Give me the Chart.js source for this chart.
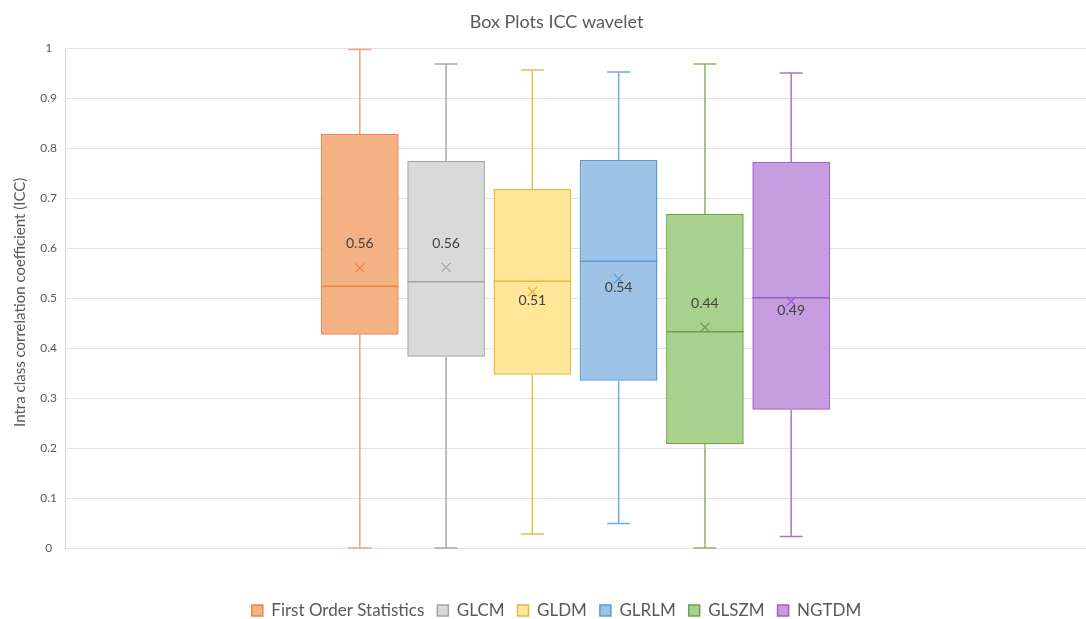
<!DOCTYPE html>
<html>
<head>
<meta charset="utf-8">
<title>Box Plots ICC wavelet</title>
<script src="https://cdn.jsdelivr.net/npm/chart.js@4/dist/chart.umd.min.js"></script>
<style>
  html, body { margin: 0; padding: 0; background: #ffffff; }
  #wrap { width: 1086px; height: 619px; position: relative; }
</style>
</head>
<body>
<div id="wrap"><canvas id="chart"></canvas></div>
<script>
// Feature families and their ICC distributions (five-number summary + mean)
const groups = ["First Order Statistics", "GLCM", "GLDM", "GLRLM", "GLSZM", "NGTDM"];
const minValues = [0.0, 0.0, 0.028, 0.049, 0.0, 0.023];
const q1Values = [0.427, 0.383, 0.347, 0.335, 0.208, 0.277];
const medianValues = [0.524, 0.533, 0.534, 0.574, 0.433, 0.501];
const q3Values = [0.829, 0.775, 0.719, 0.777, 0.669, 0.773];
const maxValues = [0.998, 0.969, 0.957, 0.953, 0.969, 0.951];
const meanValues = [0.561, 0.562, 0.513, 0.539, 0.442, 0.494];
const yTicks = [0, 0.1, 0.2, 0.3, 0.4, 0.5, 0.6, 0.7, 0.8, 0.9, 1];

const fills = ["#f4b183", "#d9d9d9", "#ffe699", "#9dc3e6", "#a9d18e", "#c59ddf"];
const edges = ["#e8864a", "#a5a5a5", "#e2b93b", "#5b9bd5", "#6fa24a", "#9e5dc9"];
const whiskerColors = ["#eea37a", "#a8a8a8", "#e3bf52", "#79a9dc", "#8ab56b", "#a874d0"];
// where the mean label sits relative to the mean marker
const labelSide = ["above", "above", "below", "below", "above", "below"];

const fontFamily = "Lato, 'Open Sans', sans-serif";
const textGrey = "#595959";

// Whiskers, caps, median line, mean cross and mean label on top of the floating bars
const boxExtras = {
  id: "boxExtras",
  afterDatasetsDraw(chart) {
    const { ctx } = chart;
    const y = chart.scales.y;
    ctx.save();
    groups.forEach((_, i) => {
      const bar = chart.getDatasetMeta(i).data[0];
      if (!bar) return;
      const cx = bar.x;
      const half = bar.width / 2;
      const cap = 11.5;

      ctx.strokeStyle = whiskerColors[i];
      ctx.lineWidth = 1.5;
      ctx.beginPath();
      ctx.moveTo(cx, y.getPixelForValue(q3Values[i]));
      ctx.lineTo(cx, y.getPixelForValue(maxValues[i]));
      ctx.moveTo(cx - cap, y.getPixelForValue(maxValues[i]));
      ctx.lineTo(cx + cap, y.getPixelForValue(maxValues[i]));
      ctx.moveTo(cx, y.getPixelForValue(q1Values[i]));
      ctx.lineTo(cx, y.getPixelForValue(minValues[i]));
      ctx.moveTo(cx - cap, y.getPixelForValue(minValues[i]));
      ctx.lineTo(cx + cap, y.getPixelForValue(minValues[i]));
      ctx.stroke();

      const my = y.getPixelForValue(medianValues[i]);
      ctx.strokeStyle = edges[i];
      ctx.lineWidth = 1.5;
      ctx.beginPath();
      ctx.moveTo(cx - half, my);
      ctx.lineTo(cx + half, my);
      ctx.stroke();

      const ay = y.getPixelForValue(meanValues[i]);
      const s = 4.5;
      ctx.lineWidth = 1.3;
      ctx.beginPath();
      ctx.moveTo(cx - s, ay - s);
      ctx.lineTo(cx + s, ay + s);
      ctx.moveTo(cx + s, ay - s);
      ctx.lineTo(cx - s, ay + s);
      ctx.stroke();

      ctx.fillStyle = "#404040";
      ctx.font = "14px " + fontFamily;
      ctx.textAlign = "center";
      ctx.textBaseline = "middle";
      const ly = labelSide[i] === "above" ? ay - 24 : ay + 9;
      ctx.fillText(meanValues[i].toFixed(2), cx, ly);
    });
    ctx.restore();
  }
};

// Rotated y-axis caption at the far left edge
const yCaption = {
  id: "yCaption",
  afterDraw(chart) {
    const { ctx, chartArea } = chart;
    ctx.save();
    ctx.translate(20, (chartArea.top + chartArea.bottom) / 2 + 4);
    ctx.rotate(-Math.PI / 2);
    ctx.fillStyle = textGrey;
    ctx.font = "15px " + fontFamily;
    ctx.textAlign = "center";
    ctx.textBaseline = "middle";
    ctx.fillText("Intra class correlation coefficient (ICC)", 0, 0);
    ctx.restore();
  }
};

const datasets = groups.map((name, i) => ({
  label: name,
  data: [[q1Values[i], q3Values[i]]],
  backgroundColor: fills[i],
  borderColor: edges[i],
  borderWidth: 1.5,
  borderSkipped: false,
  categoryPercentage: 0.507,
  barPercentage: 0.9
}));

new Chart(document.getElementById("chart"), {
  type: "bar",
  data: { labels: [""], datasets },
  plugins: [boxExtras, yCaption],
  options: {
    responsive: true,
    maintainAspectRatio: false,
    animation: false,
    layout: { padding: { left: 20, right: -7, top: 0, bottom: -10 } },
    scales: {
      x: {
        grid: { display: false },
        border: { display: false },
        ticks: { display: false },
        afterFit: (scale) => { scale.height = 41; }
      },
      y: {
        min: 0,
        max: 1,
        afterFit: (scale) => { scale.width = 45; },
        afterBuildTicks: (scale) => { scale.ticks = yTicks.map((v) => ({ value: v })); },
        grid: { color: "#e3e3e3", lineWidth: 1, drawTicks: false },
        border: { display: true, color: "#d9d9d9" },
        ticks: {
          color: textGrey,
          font: { family: fontFamily, size: 12 },
          crossAlign: "center",
          padding: 8,
          callback: (v) => String(v)
        }
      }
    },
    plugins: {
      title: {
        display: true,
        text: "Box Plots ICC wavelet",
        color: textGrey,
        font: { family: fontFamily, size: 18, weight: "normal" },
        padding: { top: 11, bottom: 16 }
      },
      legend: {
        position: "bottom",
        labels: {
          color: textGrey,
          font: { family: fontFamily, size: 17 },
          boxWidth: 11,
          boxHeight: 11,
          padding: 13
        }
      },
      tooltip: { enabled: false }
    }
  }
});
</script>
</body>
</html>
